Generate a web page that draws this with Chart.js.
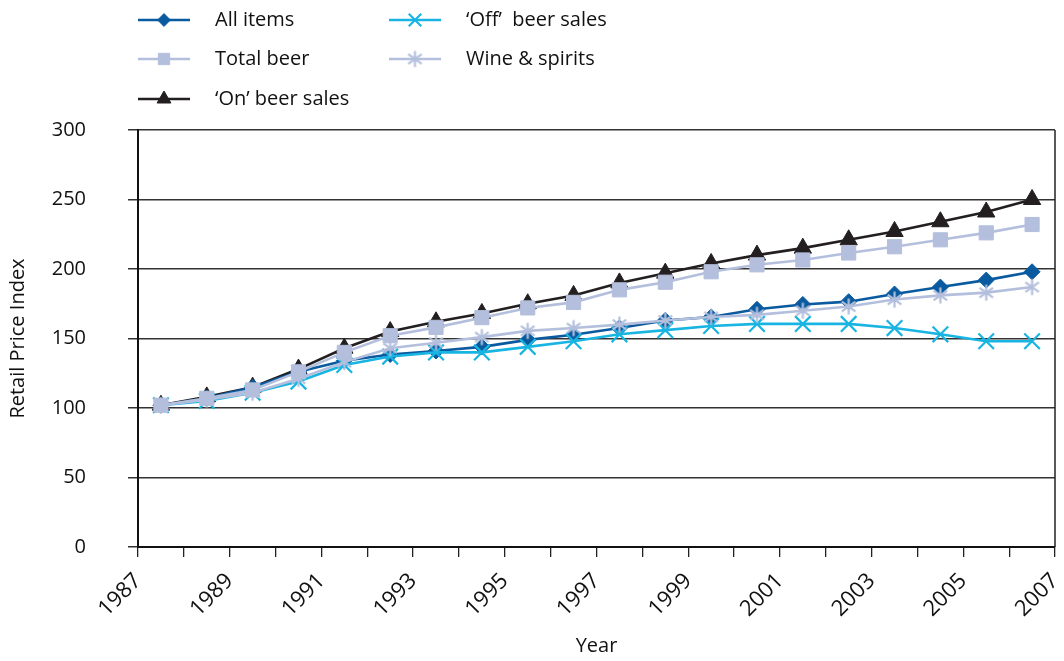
<!DOCTYPE html>
<html>
<head>
<meta charset="utf-8">
<title>Retail Price Index</title>
<script src="https://cdn.jsdelivr.net/npm/chart.js@4.4.1/dist/chart.umd.min.js"></script>
<style>
  html, body { margin: 0; padding: 0; background: #fff; }
  #wrap { width: 1064px; height: 661px; position: relative; }
</style>
</head>
<body>
<div id="wrap"><canvas id="rpiChart" width="1064" height="661"></canvas></div>
<script>
// ─── Data ──────────────────────────────────────────────────
const years = [1987, 1988, 1989, 1990, 1991, 1992, 1993, 1994, 1995, 1996,
               1997, 1998, 1999, 2000, 2001, 2002, 2003, 2004, 2005, 2006];

const allItems  = [102, 107, 115, 126, 134, 138.5, 141, 144, 149, 152.7,
                   157.5, 163, 165.5, 171, 174.5, 176.5, 182, 187, 192, 198];
const totalBeer = [102, 107, 113, 126, 140, 152, 158, 165, 172, 176,
                   185, 190.5, 198, 203, 206.5, 211.5, 216, 221, 226, 232];
const onBeer    = [102, 108, 115, 128, 143, 155, 162, 168, 175, 181,
                   190, 197, 204, 210, 215, 221, 227, 234, 241, 250];
const offBeer   = [102, 105, 111, 119, 131, 137, 140, 140, 144, 148,
                   153, 156, 159, 160.5, 160.5, 160.5, 157.5, 153, 148, 148];
const wineSpirits = [102, 106, 111, 121, 133, 143, 147, 151, 155.5, 157.5,
                     160, 163, 165.5, 167, 170, 173, 178, 181, 183, 187];

const xMin = 1987, xMax = 2007;
const yTicks = [0, 50, 100, 150, 200, 250, 300];

const FONT = '"Open Sans", "Noto Sans", sans-serif';

// each year is plotted in the middle of its interval
function pts(values) {
  return values.map((v, i) => ({ x: years[i] + 0.5, y: v }));
}

// ─── Asterisk marker (vertical bar + X) ────────────────────
function makeStar(color, size) {
  const c = document.createElement('canvas');
  c.width = size; c.height = size;
  const g = c.getContext('2d');
  const m = size / 2, r = size / 2 - 1.5;
  g.strokeStyle = color;
  g.lineWidth = 2.2;
  g.beginPath();
  g.moveTo(m, m - r); g.lineTo(m, m + r);
  const d = r * 0.85;
  g.moveTo(m - d, m - d * 0.72); g.lineTo(m + d, m + d * 0.72);
  g.moveTo(m + d, m - d * 0.72); g.lineTo(m - d, m + d * 0.72);
  g.stroke();
  return c;
}

const C_ALL  = '#0a5aa0';
const C_LITE = '#b3bfdc';
const C_ON   = '#231f20';
const C_OFF  = '#18b4e2';

const starImg = makeStar(C_LITE, 19);

function series(label, data, color, style, radius, extra) {
  return Object.assign({
    label,
    data: pts(data),
    borderColor: color,
    backgroundColor: color,
    borderWidth: 2.6,
    pointStyle: style,
    pointRadius: radius,
    pointHoverRadius: radius,
    pointBorderWidth: 1,
    pointBorderColor: color,
    pointBackgroundColor: color,
    tension: 0
  }, extra || {});
}

const datasets = [
  series('Wine & spirits', wineSpirits, C_LITE, starImg, 9),
  series('Total beer', totalBeer, C_LITE, 'rect', 10),
  series('\u2018Off\u2019  beer sales', offBeer, C_OFF, 'crossRot', 11, { pointBorderWidth: 2.2 }),
  series('All items', allItems, C_ALL, 'rectRot', 8),
  series('\u2018On\u2019 beer sales', onBeer, C_ON, 'triangle', 10)
];

// legend slots: [dataset label, column, row]
const legendSlots = [
  ['All items', 0, 0],
  ['Total beer', 0, 1],
  ['\u2018On\u2019 beer sales', 0, 2],
  ['\u2018Off\u2019  beer sales', 1, 0],
  ['Wine & spirits', 1, 1]
];

// ─── Plugins ───────────────────────────────────────────────
const framePlugin = {
  id: 'frame',
  beforeDatasetsDraw(chart) {
    const { ctx, chartArea: a } = chart;
    ctx.save();
    ctx.strokeStyle = '#222';
    ctx.lineWidth = 1.5;
    ctx.beginPath();
    ctx.moveTo(a.right, a.top);
    ctx.lineTo(a.right, a.bottom);
    ctx.stroke();
    ctx.restore();
  }
};

const legendPlugin = {
  id: 'customLegend',
  afterDraw(chart) {
    const ctx = chart.ctx;
    const colX = [138, 389];
    const rowY = [20, 59, 99];
    ctx.save();
    legendSlots.forEach(([label, col, row]) => {
      const ds = chart.data.datasets.find(d => d.label === label);
      const x0 = colX[col], y = rowY[row];
      ctx.strokeStyle = ds.borderColor;
      ctx.lineWidth = 2.6;
      ctx.beginPath();
      ctx.moveTo(x0, y);
      ctx.lineTo(x0 + 52, y);
      ctx.stroke();
      ctx.fillStyle = ds.pointBackgroundColor;
      ctx.strokeStyle = ds.pointBorderColor;
      ctx.lineWidth = ds.pointBorderWidth;
      Chart.helpers.drawPoint(ctx, {
        pointStyle: ds.pointStyle,
        radius: ds.pointRadius * 0.8,
        rotation: 0,
        borderWidth: ds.pointBorderWidth
      }, x0 + 26, y);
      ctx.fillStyle = '#111';
      ctx.font = '20px ' + FONT;
      ctx.textBaseline = 'middle';
      ctx.textAlign = 'left';
      ctx.fillText(label, x0 + 77, y);
    });
    ctx.restore();
  }
};

// ─── Chart ─────────────────────────────────────────────────
new Chart(document.getElementById('rpiChart'), {
  type: 'line',
  data: { datasets },
  options: {
    responsive: false,
    animation: false,
    events: [],
    layout: { autoPadding: false, padding: { top: 130, right: 9, left: 0, bottom: 0 } },
    plugins: { legend: { display: false }, tooltip: { enabled: false } },
    scales: {
      x: {
        type: 'linear',
        min: xMin,
        max: xMax,
        afterBuildTicks(scale) {
          scale.ticks = years.concat([xMax]).map(v => ({ value: v }));
        },
        afterFit(scale) {
          scale.height = 114;
          scale.paddingLeft = 0;
          scale.paddingRight = 0;
        },
        ticks: {
          autoSkip: false,
          maxRotation: 45,
          minRotation: 45,
          padding: 11,
          color: '#111',
          font: { family: FONT, size: 22 },
          callback: v => (v % 2 === 1 ? String(v) : '')
        },
        grid: {
          drawOnChartArea: false,
          drawTicks: true,
          tickLength: 10,
          color: '#222',
          lineWidth: 1.3
        },
        border: { display: true, color: '#111', width: 2 },
        title: {
          display: true,
          text: 'Year',
          color: '#111',
          font: { family: FONT, size: 20 },
          padding: { top: 0, bottom: 3 }
        }
      },
      y: {
        min: 0,
        max: 300,
        afterBuildTicks(scale) {
          scale.ticks = yTicks.map(v => ({ value: v }));
        },
        afterFit(scale) { scale.width = 138; },
        ticks: {
          padding: 42,
          color: '#111',
          font: { family: FONT, size: 20 }
        },
        grid: {
          color: '#333',
          lineWidth: 1.5,
          tickLength: 10
        },
        border: { display: true, color: '#111', width: 2 },
        title: {
          display: true,
          text: 'Retail Price Index',
          color: '#111',
          font: { family: FONT, size: 20 },
          padding: { top: 6, bottom: 0 }
        }
      }
    }
  },
  plugins: [framePlugin, legendPlugin]
});
</script>
</body>
</html>
